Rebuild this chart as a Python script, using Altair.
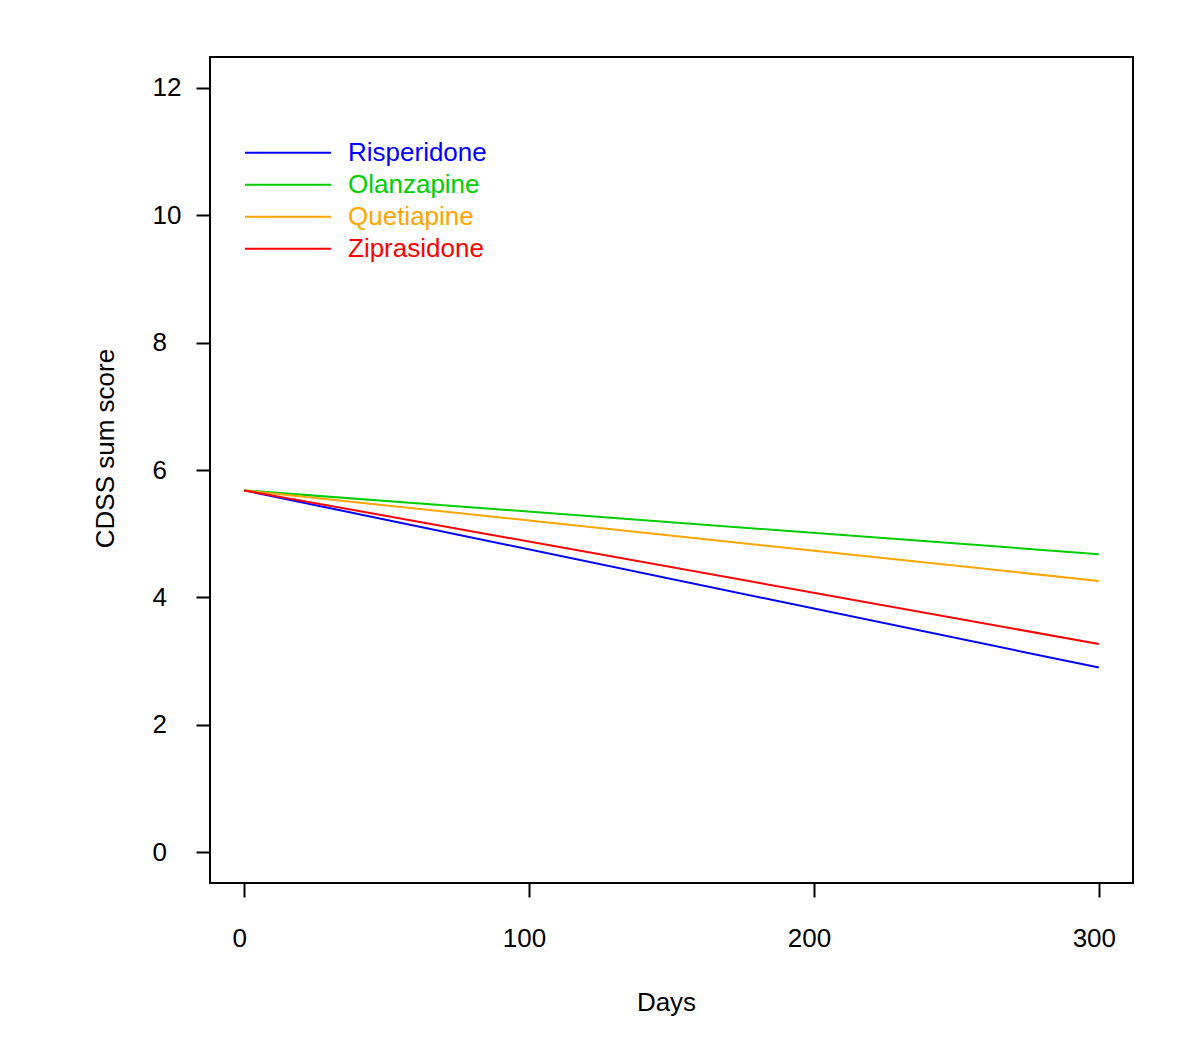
import altair as alt
import pandas as pd

drugs = ["Risperidone", "Olanzapine", "Quetiapine", "Ziprasidone"]
colors = ["#0000ff", "#00cd00", "#ffa500", "#ff0000"]
days = [0, 300]
start_score = [5.68, 5.68, 5.68, 5.68]
end_score = [2.90, 4.68, 4.26, 3.27]

rows = []
for d, s, e in zip(drugs, start_score, end_score):
    rows.append({"drug": d, "days": days[0], "score": s})
    rows.append({"drug": d, "days": days[1], "score": e})
df = pd.DataFrame(rows)

FONT = "Liberation Sans"

chart = alt.Chart(df).mark_line(strokeWidth=2).encode(
    x=alt.X("days:Q",
            scale=alt.Scale(domain=[-12, 312], nice=False, zero=False),
            axis=alt.Axis(values=[0, 100, 200, 300], title="Days",
                          titleX=456, titleY=127, titleBaseline="alphabetic",
                          labelPadding=28, labelOffset=-5)),
    y=alt.Y("score:Q",
            scale=alt.Scale(domain=[-0.48, 12.48], nice=False, zero=False),
            axis=alt.Axis(values=[0, 2, 4, 6, 8, 10, 12], title="CDSS sum score",
                          titleX=-97, titleY=391, titleAngle=270,
                          titleAlign="center", titleBaseline="alphabetic",
                          labelAlign="left", labelBaseline="middle",
                          labelPadding=44)),
    color=alt.Color("drug:N",
                    scale=alt.Scale(domain=drugs, range=colors),
                    sort=drugs,
                    legend=alt.Legend(title=None, orient="none",
                                      legendX=34, legendY=80,
                                      symbolType="stroke", symbolSize=7396,
                                      symbolStrokeWidth=2, clipHeight=31.4,
                                      rowPadding=0, padding=0, labelOffset=16,
                                      labelFont=FONT, labelFontSize=26,
                                      labelColor={"expr": "scale('color', datum.value)"})),
).properties(
    width=923, height=826,
    background="white",
    autosize=alt.AutoSizeParams(type="none"),
    padding={"left": 202, "top": 49, "right": 59, "bottom": 163},
).configure_view(
    stroke="black", strokeWidth=2
).configure_axis(
    domain=False, grid=False, ticks=True, tickColor="black", tickWidth=2,
    tickSize=14, labelFont=FONT, labelFontSize=26, labelColor="black",
    titleFont=FONT, titleFontSize=26, titleFontWeight="normal", titleColor="black",
)

chart.save("out.html", embed_options={"renderer": "svg", "actions": False})
